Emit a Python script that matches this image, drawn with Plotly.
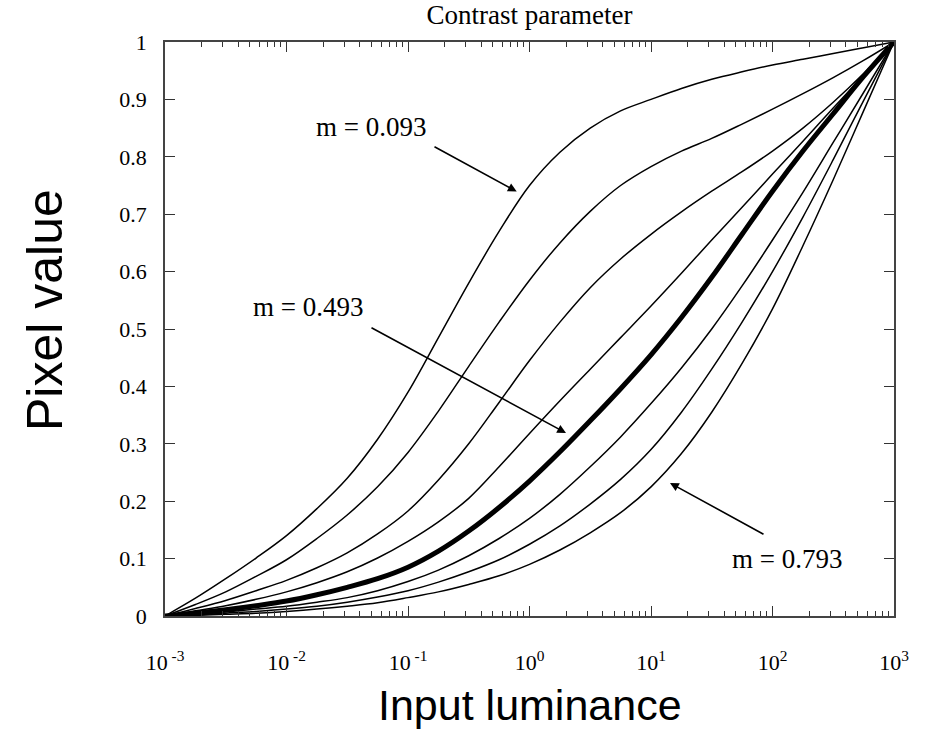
import plotly.graph_objects as go

# Input luminance sample positions (quarter-decade steps)
luminance = [0.001, 0.00178, 0.00316, 0.00562, 0.01, 0.0178, 0.0316, 0.0562, 0.1, 0.178,
             0.316, 0.562, 1, 1.78, 3.16, 5.62, 10, 17.8, 31.6, 56.2, 100, 178, 316, 562, 1000]

m_values = ["0.093", "0.193", "0.293", "0.393", "0.493", "0.593", "0.693", "0.793"]

pix_m0093 = [0, 0.031, 0.065, 0.101, 0.140, 0.187, 0.240, 0.308, 0.390, 0.485, 0.580, 0.670, 0.750,
             0.808, 0.850, 0.880, 0.900, 0.919, 0.935, 0.948, 0.960, 0.970, 0.980, 0.990, 1.0]
pix_m0193 = [0, 0.020, 0.042, 0.069, 0.098, 0.135, 0.176, 0.225, 0.285, 0.357, 0.435, 0.512, 0.585,
             0.650, 0.705, 0.750, 0.783, 0.810, 0.832, 0.857, 0.883, 0.910, 0.938, 0.968, 1.0]
pix_m0293 = [0, 0.013, 0.027, 0.044, 0.062, 0.084, 0.110, 0.143, 0.183, 0.237, 0.300, 0.372, 0.445,
             0.512, 0.572, 0.622, 0.665, 0.704, 0.740, 0.774, 0.810, 0.850, 0.895, 0.945, 1.0]
pix_m0393 = [0, 0.009, 0.018, 0.029, 0.042, 0.058, 0.077, 0.101, 0.130, 0.164, 0.205, 0.260, 0.318,
             0.375, 0.430, 0.485, 0.540, 0.597, 0.655, 0.712, 0.770, 0.827, 0.885, 0.942, 1.0]
pix_m0493 = [0, 0.005, 0.011, 0.018, 0.026, 0.037, 0.050, 0.065, 0.085, 0.113, 0.148, 0.189, 0.235,
             0.286, 0.340, 0.396, 0.455, 0.520, 0.590, 0.665, 0.740, 0.810, 0.875, 0.940, 1.0]
pix_m0593 = [0, 0.003, 0.007, 0.012, 0.017, 0.024, 0.032, 0.044, 0.060, 0.080, 0.105, 0.135, 0.170,
             0.212, 0.260, 0.312, 0.370, 0.432, 0.500, 0.575, 0.655, 0.738, 0.825, 0.912, 1.0]
pix_m0693 = [0, 0.002, 0.005, 0.008, 0.012, 0.017, 0.024, 0.033, 0.044, 0.059, 0.077, 0.098, 0.125,
             0.157, 0.195, 0.238, 0.290, 0.355, 0.430, 0.512, 0.600, 0.695, 0.795, 0.898, 1.0]
pix_m0793 = [0, 0.001, 0.003, 0.005, 0.008, 0.012, 0.017, 0.023, 0.032, 0.042, 0.055, 0.070, 0.090,
             0.115, 0.145, 0.180, 0.225, 0.283, 0.355, 0.440, 0.535, 0.645, 0.760, 0.880, 1.0]

series = [pix_m0093, pix_m0193, pix_m0293, pix_m0393, pix_m0493, pix_m0593, pix_m0693, pix_m0793]

x_tickvals = [0.001, 0.01, 0.1, 1, 10, 100, 1000]
x_ticktext = ["10<sup> -3</sup>", "10<sup> -2</sup>", "10<sup> -1</sup>", "10<sup>0</sup>",
              "10<sup>1</sup>", "10<sup>2</sup>", "10<sup>3</sup>"]
y_tickvals = [0, 0.1, 0.2, 0.3, 0.4, 0.5, 0.6, 0.7, 0.8, 0.9, 1]
y_ticktext = ["0", "0.1", "0.2", "0.3", "0.4", "0.5", "0.6", "0.7", "0.8", "0.9", "1"]

fig = go.Figure()
for m, ys in zip(m_values, series):
    fig.add_trace(go.Scatter(
        x=luminance, y=ys, mode="lines", name="m = " + m,
        line=dict(color="black", width=5 if m == "0.493" else 1.5, shape="spline", smoothing=1.0),
        showlegend=False,
    ))

serif = "Liberation Serif"
sans = "Liberation Sans"

L, R, T, B = 165, 894, 42, 616


def px2x(px):
    return -3 + (px - L) / (R - L) * 6


def px2y(py):
    return (B - py) / (B - T)


arrows = [
    dict(tail=(433, 146), tip=(516.7, 191.5)),
    dict(tail=(370, 327), tip=(566, 433)),
    dict(tail=(765, 535), tip=(670, 483)),
]
labels = [("m = 0.093", 371, 127), ("m = 0.493", 308, 307), ("m = 0.793", 787, 559)]

for a in arrows:
    fig.add_annotation(
        x=px2x(a["tip"][0]), y=px2y(a["tip"][1]), xref="x", yref="y",
        ax=px2x(a["tail"][0]), ay=px2y(a["tail"][1]), axref="x", ayref="y",
        text="", showarrow=True, arrowhead=2, arrowsize=1.1, arrowwidth=1.6, arrowcolor="black",
    )
for txt, lx, ly in labels:
    fig.add_annotation(
        x=px2x(lx), y=px2y(ly), xref="x", yref="y", text=txt, showarrow=False,
        font=dict(family=serif, size=27, color="black"),
    )

# axis titles
fig.add_annotation(x=0.5, y=0, xref="paper", yref="paper", yshift=-(705 - B),
                   text="Input luminance", showarrow=False, yanchor="middle",
                   font=dict(family=sans, size=43, color="black"))
fig.add_annotation(x=0, y=px2y(310), xref="paper", yref="paper", xshift=-(L - 45),
                   text="Pixel value", showarrow=False, textangle=-90, xanchor="center",
                   font=dict(family=sans, size=50, color="black"))

fig.update_layout(
    width=930, height=731,
    margin=dict(l=L, r=930 - R, t=T, b=731 - B),
    paper_bgcolor="white", plot_bgcolor="white",
    title=dict(text="Contrast parameter", x=0.5, xanchor="center", xref="paper",
               y=1 - 15 / 731, yanchor="middle",
               font=dict(family=serif, size=27, color="black")),
)

fig.update_xaxes(
    type="log", range=[-3, 3],
    tickvals=x_tickvals, ticktext=x_ticktext,
    ticks="inside", ticklen=10, tickwidth=1, tickcolor="#333",
    minor=dict(ticks="inside", ticklen=5, dtick="D1", tickcolor="#333", showgrid=False),
    showline=True, linecolor="#444", linewidth=1.5, mirror="allticks",
    showgrid=False, zeroline=False,
    tickfont=dict(family=serif, size=22, color="black"),
    ticklabelstandoff=26,
)
fig.update_yaxes(
    range=[0, 1],
    tickvals=y_tickvals, ticktext=y_ticktext,
    ticks="inside", ticklen=10, tickwidth=1, tickcolor="#333",
    showline=True, linecolor="#444", linewidth=1.5, mirror="allticks",
    showgrid=False, zeroline=False,
    tickfont=dict(family=serif, size=22, color="black"),
    ticklabelstandoff=12,
)

fig.write_html("out.html")
